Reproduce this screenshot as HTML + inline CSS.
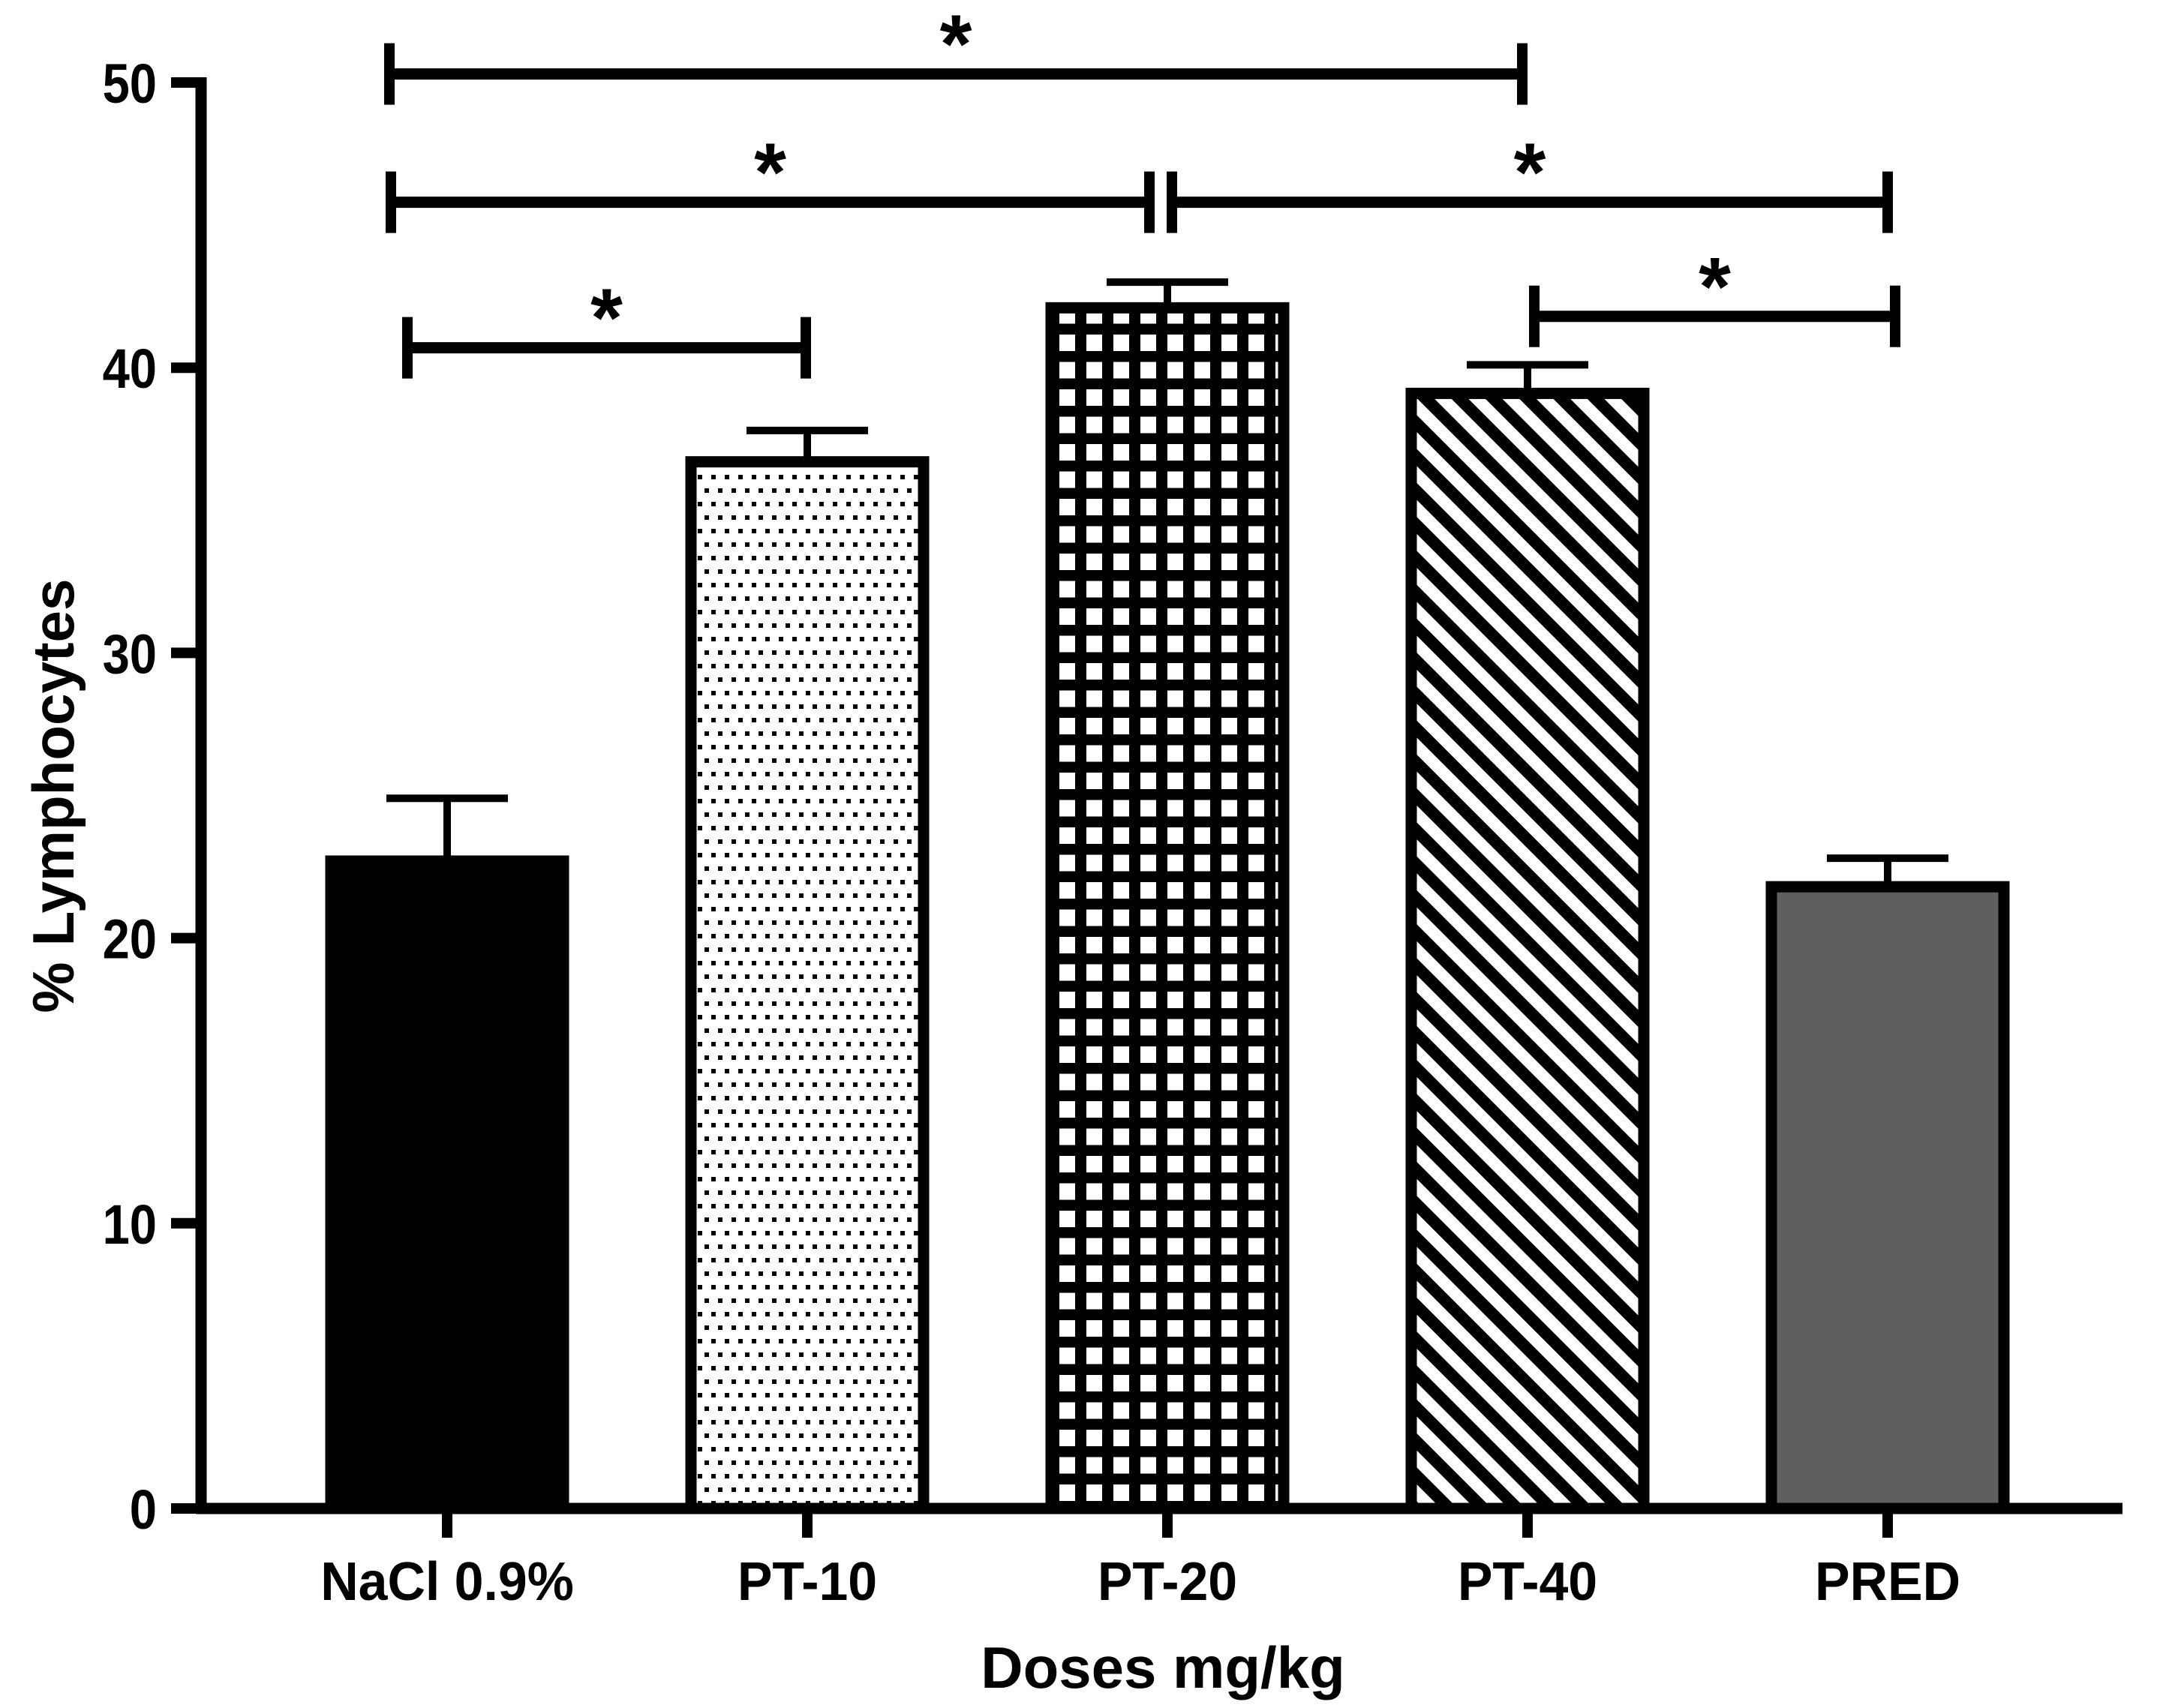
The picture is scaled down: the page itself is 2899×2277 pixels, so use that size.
<!DOCTYPE html>
<html><head><meta charset="utf-8"><style>
html,body{margin:0;padding:0;background:#fff;}
svg{display:block;}
text{font-family:"Liberation Sans",Arial,sans-serif;font-weight:bold;fill:#000;}
</style></head><body>
<svg id="chart" width="2899" height="2277" viewBox="0 0 2899 2277" xmlns="http://www.w3.org/2000/svg">
<defs>
<pattern id="dots" patternUnits="userSpaceOnUse" width="18" height="36">
<rect x="3" y="3" width="6" height="6" fill="#000"/>
<rect x="12" y="21" width="6" height="6" fill="#000"/>
</pattern>
<pattern id="grid" patternUnits="userSpaceOnUse" width="36" height="36.5">
<rect width="36" height="36.5" fill="#000"/>
<rect x="8" y="8" width="21" height="22" fill="#fff"/>
</pattern>
<pattern id="hatch" patternUnits="userSpaceOnUse" width="32" height="32" patternTransform="rotate(-45)">
<rect width="32" height="32" fill="#fff"/>
<rect width="16" height="32" fill="#000"/>
</pattern>
</defs>
<g id="plot"></g>
</svg>
<script>
const categories = ["NaCl 0.9%", "PT-10", "PT-20", "PT-40", "PRED"];
const means = [22.7, 36.7, 42.1, 39.1, 21.8];
const errors = [2.2, 1.1, 0.9, 1.0, 1.0];
const yTicks = [0, 10, 20, 30, 40, 50];
const sigFrom = [0, 0, 2, 0, 3];
const sigTo = [3, 2, 4, 1, 4];
const sigLevel = [50.3, 45.8, 45.8, 40.7, 41.8];

const NS = "http://www.w3.org/2000/svg";
const g = document.getElementById("plot");
const X0 = 268, X1 = 2829, Y0 = 2011, PER = 38.02;
function yS(v){ return Y0 - v*PER; }
function xS(i){ return 596 + i*480; }
function mk(tag, attrs){ const e = document.createElementNS(NS, tag); for (const k in attrs) e.setAttribute(k, attrs[k]); g.appendChild(e); return e; }

let e = mk("line",{x1:X0,y1:yS(50)-7,x2:X0,y2:Y0+7,stroke:"#000","stroke-width":15});
 
e = mk("line",{x1:X0-7,y1:Y0,x2:X1,y2:Y0,stroke:"#000","stroke-width":15});
 

yTicks.forEach(t=>{
  const y = yS(t);
  const tk = mk("line",{x1:228,y1:y,x2:X0,y2:y,stroke:"#000","stroke-width":14});
  
  
  const lb = mk("text",{x:0,y:0,"font-size":74,"text-anchor":"end",transform:`translate(209 ${y+27}) scale(0.88 1)`});
  lb.textContent = t;
  
  
});

const fills = ["#000","url(#dots)","url(#grid)","url(#hatch)","#5f5f5f"];
const bw = 310;
categories.forEach((c,i)=>{
  const cx = xS(i), top = yS(means[i]);
  const r = mk("rect",{x:cx-bw/2,y:top,width:bw,height:Y0-top,fill:fills[i],stroke:"#000","stroke-width":15});
  
  
  const et = yS(means[i]+errors[i]);
  const s = mk("line",{x1:cx,y1:top,x2:cx,y2:et,stroke:"#000","stroke-width":10});
  
  
  const cp = mk("line",{x1:cx-81,y1:et,x2:cx+81,y2:et,stroke:"#000","stroke-width":10});
  
  
  const tk = mk("line",{x1:cx,y1:Y0,x2:cx,y2:2050,stroke:"#000","stroke-width":14});
  
  
  const lb = mk("text",{x:0,y:0,"font-size":72,"text-anchor":"middle",transform:`translate(${cx} 2133) scale(0.97 1)`});
  lb.textContent = c;
  
  
});

const leftAdj = [-77, -75, 0, -53, 0];
const rightAdj = [-7, -18, 0, -2, 10];
sigFrom.forEach((a,k)=>{
  const y = yS(sigLevel[k]);
  const xa = a===2 && sigTo[k]===4 ? 1562 : xS(a)+leftAdj[k];
  const xb = sigTo[k]===2 && a===0 ? 1532 : xS(sigTo[k])+rightAdj[k];
  const xl = (a===3) ? 2045 : xa;
  const l = mk("line",{x1:xl,y1:y,x2:xb,y2:y,stroke:"#000","stroke-width":15});
  
  
  [xl,xb].forEach((xx,j)=>{
    const c = mk("line",{x1:xx,y1:y-41,x2:xx,y2:y+41,stroke:"#000","stroke-width":14});
    
    
  });
  const st = mk("text",{x:(xl+xb)/2,y:y-2,"font-size":110,"text-anchor":"middle"});
  st.textContent = "*";
  
  
});

e = mk("text",{x:0,y:0,"font-size":78,"text-anchor":"middle",transform:"translate(1550 2250) scale(1.0 1)"});
e.textContent = "Doses mg/kg";
 
e = mk("text",{x:0,y:0,"font-size":78,"text-anchor":"middle",transform:"translate(98 1061) rotate(-90) scale(0.98 1)"});
e.textContent = "% Lymphocytes";
 
</script>
</body></html>
